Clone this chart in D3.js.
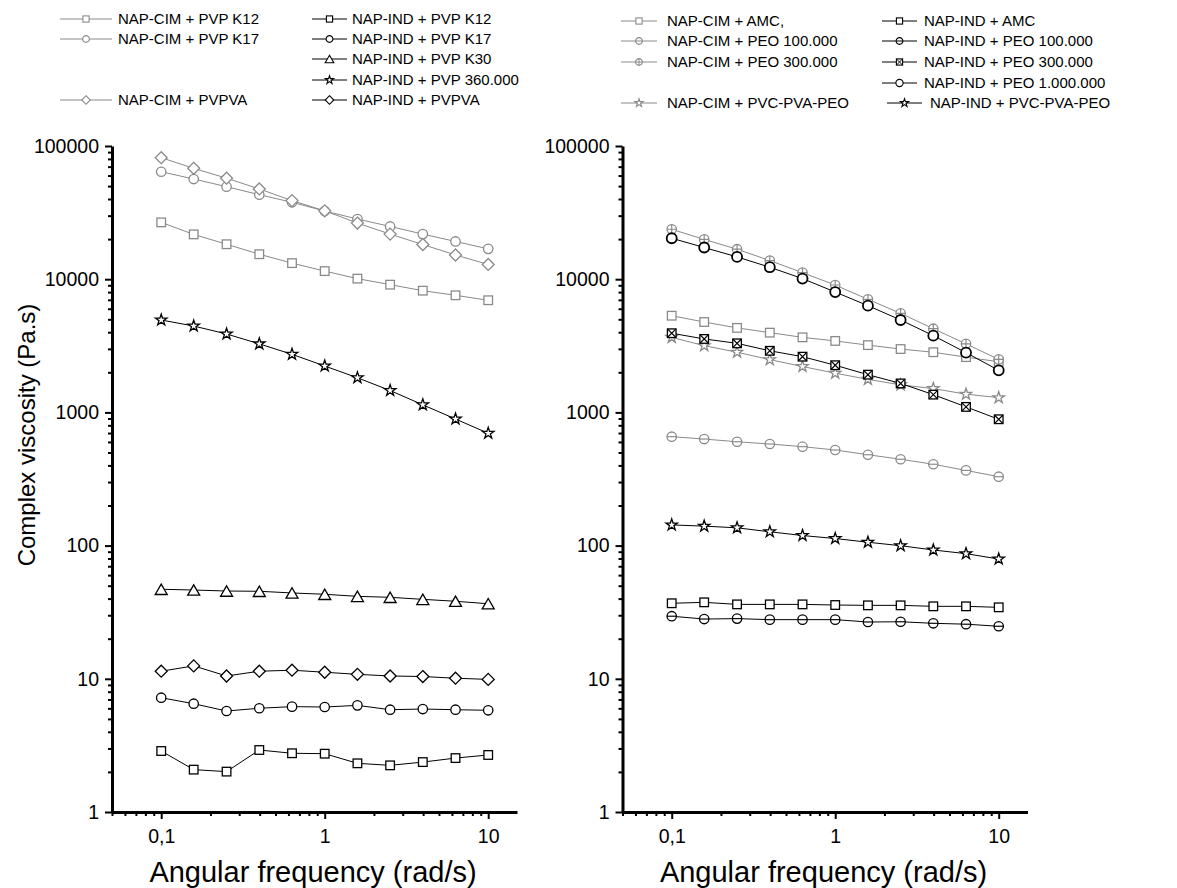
<!DOCTYPE html>
<html>
<head>
<meta charset="utf-8">
<script src="https://cdn.jsdelivr.net/npm/d3@7"></script>
<style>
  body { margin: 0; background: #fff; }
  text { font-family: "Liberation Sans", Arial, sans-serif; fill: #000; }
</style>
</head>
<body>
<svg id="chart" width="1177" height="888"></svg>
<script>
/* global d3 */

// angular frequency (rad/s), 5 points per decade
const freq = [0.1, 0.158, 0.251, 0.398, 0.631, 1, 1.585, 2.512, 3.981, 6.31, 10];

// left panel - PVP / PVPVA
const cimPvpK12 = [26700, 21700, 18300, 15400, 13200, 11500, 10100, 9100, 8200, 7570, 6950];
const cimPvpK17 = [64100, 56500, 49500, 43100, 37800, 32500, 28300, 24900, 21800, 19200, 16900];
const cimPvpva = [81700, 68000, 57300, 47600, 38900, 32600, 26400, 21800, 18200, 15200, 12900];
const indPvpK12 = [2.87, 2.08, 2.01, 2.92, 2.76, 2.74, 2.32, 2.24, 2.37, 2.54, 2.68];
const indPvpK17 = [7.21, 6.5, 5.73, 6.01, 6.18, 6.14, 6.32, 5.86, 5.93, 5.86, 5.8];
const indPvpK30 = [47.0, 46.4, 45.6, 45.4, 44.1, 43.1, 41.6, 40.9, 39.5, 38.2, 36.6];
const indPvp360 = [4940, 4450, 3880, 3270, 2730, 2230, 1820, 1460, 1140, 892, 697];
const indPvpva = [11.4, 12.5, 10.5, 11.4, 11.6, 11.2, 10.8, 10.5, 10.4, 10.1, 9.9];

// right panel - AMC / PEO / PVC-PVA-PEO
const cimAmc = [5320, 4770, 4310, 3970, 3660, 3440, 3200, 2990, 2830, 2600, 2400];
const cimPeo100 = [657, 631, 602, 579, 553, 522, 481, 445, 408, 367, 329];
const cimPeo300 = [23700, 19900, 16800, 13800, 11200, 9040, 7060, 5540, 4250, 3270, 2500];
const cimPvcPvaPeo = [3660, 3170, 2830, 2490, 2210, 1970, 1770, 1610, 1510, 1370, 1290];
const indAmc = [36.9, 37.5, 36.2, 36.2, 36.2, 35.8, 35.6, 35.6, 35.0, 35.0, 34.4];
const indPeo100 = [29.5, 28.1, 28.3, 27.8, 27.8, 27.8, 26.7, 26.8, 26.1, 25.7, 24.8];
const indPeo300 = [3930, 3560, 3300, 2900, 2620, 2260, 1920, 1650, 1360, 1100, 888];
const indPeo1000 = [20300, 17300, 14700, 12300, 10100, 8010, 6330, 4940, 3770, 2810, 2070];
const indPvcPvaPeo = [143, 140, 136, 127, 119, 113, 106, 99.8, 92.7, 87, 79.3];

const yTicks = [1, 10, 100, 1000, 10000, 100000];
const xTicks = [0.1, 1, 10];
const xTitle = 'Angular frequency (rad/s)';
const yTitle = 'Complex viscosity (Pa.s)';

const GRAY = '#8a8a8a';
const BLACK = '#000';

const leftSeries = [
  { name: 'NAP-CIM + PVP K12', values: cimPvpK12, shape: 'square', color: GRAY, col: 0, row: 0 },
  { name: 'NAP-CIM + PVP K17', values: cimPvpK17, shape: 'circle', color: GRAY, col: 0, row: 1 },
  { name: 'NAP-CIM + PVPVA', values: cimPvpva, shape: 'diamond', color: GRAY, col: 0, row: 4 },
  { name: 'NAP-IND + PVP K12', values: indPvpK12, shape: 'square', color: BLACK, col: 1, row: 0 },
  { name: 'NAP-IND + PVP K17', values: indPvpK17, shape: 'circle', color: BLACK, col: 1, row: 1 },
  { name: 'NAP-IND + PVP K30', values: indPvpK30, shape: 'triangle', color: BLACK, col: 1, row: 2 },
  { name: 'NAP-IND + PVP 360.000', values: indPvp360, shape: 'star', color: BLACK, col: 1, row: 3 },
  { name: 'NAP-IND + PVPVA', values: indPvpva, shape: 'diamond', color: BLACK, col: 1, row: 4 }
];

const rightSeries = [
  { name: 'NAP-CIM + AMC,', values: cimAmc, shape: 'square', color: GRAY, col: 0, row: 0 },
  { name: 'NAP-CIM + PEO 100.000', values: cimPeo100, shape: 'circleMinus', color: GRAY, col: 0, row: 1 },
  { name: 'NAP-CIM + PEO 300.000', values: cimPeo300, shape: 'circlePlus', color: GRAY, col: 0, row: 2 },
  { name: 'NAP-CIM + PVC-PVA-PEO', values: cimPvcPvaPeo, shape: 'star', color: GRAY, col: 0, row: 4 },
  { name: 'NAP-IND + AMC', values: indAmc, shape: 'square', color: BLACK, col: 1, row: 0 },
  { name: 'NAP-IND + PEO 100.000', values: indPeo100, shape: 'circleMinus', color: BLACK, col: 1, row: 1 },
  { name: 'NAP-IND + PEO 300.000', values: indPeo300, shape: 'squareX', color: BLACK, col: 1, row: 2 },
  { name: 'NAP-IND + PEO 1.000.000', values: indPeo1000, shape: 'bigCircle', color: BLACK, col: 1, row: 3 },
  { name: 'NAP-IND + PVC-PVA-PEO', values: indPvcPvaPeo, shape: 'star', color: BLACK, col: 2, row: 4 }
];

const svg = d3.select('#chart');
const y = d3.scaleLog().domain([1, 100000]).range([812, 146]);
const fmt = d3.formatLocale({ decimal: ',', thousands: '.', grouping: [3], currency: ['', ''] }).format('~g');

// 2..9 multiples inside a domain, skipping the decades
function minorTicks(lo, hi) {
  var out = [];
  for (var e = -3; e <= 6; e++) {
    for (var k = 2; k <= 9; k++) {
      var v = k * Math.pow(10, e);
      if (v >= lo * 0.999 && v <= hi * 1.001) out.push(v);
    }
  }
  return out;
}

function drawMarker(g, shape, r, color, sw) {
  var stroke = s => s.attr('fill', '#fff').attr('stroke', color).attr('stroke-width', sw);
  if (shape === 'square' || shape === 'squareX') {
    g.append('rect').attr('x', -r).attr('y', -r).attr('width', 2 * r).attr('height', 2 * r).call(stroke);
    if (shape === 'squareX') {
      g.append('path').attr('d', `M${-r},${-r}L${r},${r}M${-r},${r}L${r},${-r}`)
        .attr('stroke', color).attr('stroke-width', sw * 0.9);
    }
  } else if (shape === 'circle' || shape === 'circleMinus' || shape === 'circlePlus' || shape === 'bigCircle') {
    g.append('circle').attr('r', r).call(stroke);
    if (shape === 'circleMinus' || shape === 'circlePlus') {
      g.append('path').attr('d', `M${-r},0L${r},0` + (shape === 'circlePlus' ? `M0,${-r}L0,${r}` : ''))
        .attr('stroke', color).attr('stroke-width', sw * 0.9);
    }
  } else if (shape === 'triangle') {
    var h = r * 1.04, w = r * 1.2;
    g.append('path').attr('d', `M0,${-h}L${w},${h}L${-w},${h}Z`).call(stroke);
  } else if (shape === 'diamond') {
    var d = r * 1.3;
    g.append('path').attr('d', `M0,${-d}L${d},0L0,${d}L${-d},0Z`).call(stroke);
  } else if (shape === 'star') {
    var pts = d3.range(10).map(i => {
      var a = -Math.PI / 2 + i * Math.PI / 5;
      var rr = i % 2 ? r * 0.48 : r * 1.25;
      return [rr * Math.cos(a), rr * Math.sin(a)];
    });
    g.append('path').attr('d', 'M' + pts.join('L') + 'Z').call(stroke);
  }
}

const markerSize = { square: 4.3, squareX: 4.3, circle: 4.7, circleMinus: 4.7, circlePlus: 4.7, bigCircle: 5, triangle: 5, diamond: 4.6, star: 4.8 };

function drawPanel(x0, series, legend, showTitle) {
  var x = d3.scaleLog().domain([0.05, 15]).range([x0, x0 + 405]);
  var g = svg.append('g');

  // minor ticks first, then the main axes on top
  g.append('g').attr('transform', `translate(${x0},0)`)
    .call(d3.axisLeft(y).tickValues(minorTicks(1, 100000)).tickSize(4).tickFormat(''))
    .call(a => a.select('.domain').remove())
    .call(a => a.selectAll('line').attr('stroke-width', 2));
  g.append('g').attr('transform', 'translate(0,812)')
    .call(d3.axisBottom(x).tickValues(minorTicks(0.05, 15)).tickSize(4).tickFormat(''))
    .call(a => a.select('.domain').remove())
    .call(a => a.selectAll('line').attr('stroke-width', 2));

  var ya = g.append('g').attr('transform', `translate(${x0},0)`)
    .call(d3.axisLeft(y).tickValues(yTicks).tickSize(7).tickSizeOuter(0).tickPadding(6).tickFormat(fmt));
  var xa = g.append('g').attr('transform', 'translate(0,812)')
    .call(d3.axisBottom(x).tickValues(xTicks).tickSize(7).tickSizeOuter(0).tickPadding(10).tickFormat(fmt));
  [ya, xa].forEach(a => {
    a.select('.domain').attr('stroke-width', 3);
    a.selectAll('.tick line').attr('stroke-width', 2);
    a.selectAll('text').attr('font-size', 19.5).attr('font-family', '"Liberation Sans", Arial, sans-serif');
  });

  g.append('text').attr('x', x0 + 201).attr('y', 882).attr('text-anchor', 'middle')
    .attr('font-size', 29).text(xTitle);
  if (showTitle) {
    g.append('text').attr('transform', 'translate(35,435) rotate(-90)').attr('text-anchor', 'middle')
      .attr('font-size', 24).text(yTitle);
  }

  var line = d3.line().x(d => x(d[0])).y(d => y(d[1]));
  series.forEach(s => {
    var pts = freq.map((f, i) => [f, s.values[i]]);
    var sg = g.append('g');
    sg.append('path').attr('d', line(pts)).attr('fill', 'none')
      .attr('stroke', s.color).attr('stroke-width', 1);
    sg.selectAll('g.pt').data(pts).enter().append('g').attr('class', 'pt')
      .attr('transform', d => `translate(${x(d[0])},${y(d[1])})`)
      .each(function() {
        drawMarker(d3.select(this), s.shape, markerSize[s.shape], s.color, s.shape === 'bigCircle' ? 1.8 : 1.3);
      });

    // legend entry
    var c = legend.cols[s.col];
    var ly = legend.rows[s.row];
    var lg = g.append('g');
    lg.append('line').attr('x1', c.x0).attr('x2', c.x1).attr('y1', ly).attr('y2', ly)
      .attr('stroke', s.color).attr('stroke-width', 1);
    var mg = lg.append('g').attr('transform', `translate(${(c.x0 + c.x1) / 2},${ly})`);
    drawMarker(mg, s.shape, markerSize[s.shape] * 0.72, s.color, 1.1);
    lg.append('text').attr('x', c.tx).attr('y', ly).attr('dy', '0.36em')
      .attr('font-size', 15).text(s.name);
  });
}

drawPanel(112, leftSeries, {
  cols: [{ x0: 60, x1: 112, tx: 118 }, { x0: 312, x1: 347, tx: 352 }],
  rows: [19, 39, 59, 80, 100]
}, true);

drawPanel(622.5, rightSeries, {
  cols: [{ x0: 621, x1: 657, tx: 667 }, { x0: 882, x1: 917, tx: 924 }, { x0: 887, x1: 922, tx: 930 }],
  rows: [21, 41, 62, 83, 103]
}, false);
</script>
</body>
</html>
